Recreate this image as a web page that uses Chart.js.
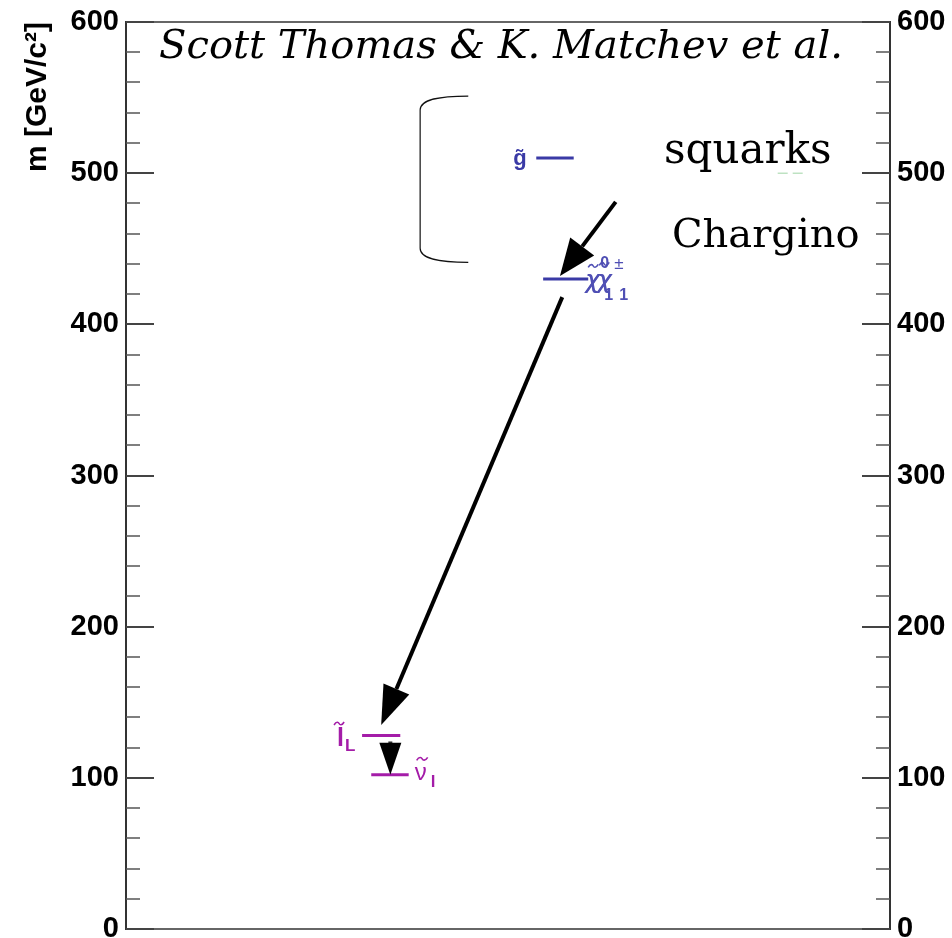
<!DOCTYPE html>
<html>
<head>
<meta charset="utf-8">
<script src="https://cdn.jsdelivr.net/npm/chart.js@4/dist/chart.umd.min.js"></script>
<style>
  html, body { margin: 0; padding: 0; background: #fff; }
  #wrap { width: 952px; height: 938px; }
</style>
</head>
<body>
<div id="wrap"><canvas id="c" width="952" height="938"></canvas></div>
<script>
// Mass axis (GeV/c^2)
const massTicks = [0, 100, 200, 300, 400, 500, 600];
const minorTickStep = 20;

// Sparticle mass levels
const levelNames  = ['gluino', 'squarks', 'chi', 'sleptonL', 'sneutrino'];
const levelMass   = [510, 500, 430, 128, 102];
const levelXStart = [53.7, 85.3, 54.6, 30.9, 32.1];
const levelXEnd   = [58.6, 88.6, 60.5, 35.9, 37.0];

// Decay arrows, tail -> head, in (x, mass)
const arrowFromX = [64.1, 57.1, 34.6];
const arrowFromM = [481, 418, 124];
const arrowToX   = [56.8, 33.4, 34.6];
const arrowToM   = [432, 135, 102];

// Bracket around the heavy states: x extent and mass extent
const bracketX = [38.5, 44.8];
const bracketM = [551, 441];

// Text
const headerText = 'Scott Thomas & K. Matchev et al.';
const noteTexts = ['squarks', 'Chargino'];
const axisTitle = 'm [GeV/c\u00B2]';

const BLUE = '#3a3aa6';
const BLUE_LIGHT = '#4f4fb4';
const MAGENTA = '#a41ca8';
const levelStyle = {
  gluino:    { color: BLUE, width: 3 },
  squarks:   { color: 'rgba(110,190,120,0.45)', width: 1.5, dash: [10, 5] },
  chi:       { color: BLUE, width: 3 },
  sleptonL:  { color: MAGENTA, width: 3 },
  sneutrino: { color: MAGENTA, width: 3 }
};
const arrowHead = [
  { len: 37, half: 15 },
  { len: 39, half: 14 },
  { len: 32, half: 11 }
];

const datasets = levelNames.map((name, i) => ({
  label: name,
  data: [{ x: levelXStart[i], y: levelMass[i] }, { x: levelXEnd[i], y: levelMass[i] }],
  borderColor: levelStyle[name].color,
  borderWidth: levelStyle[name].width,
  borderDash: levelStyle[name].dash || [],
  pointRadius: 0,
  fill: false,
  tension: 0
}));

function massAxis(position, width, padding) {
  return {
    type: 'linear',
    position: position,
    min: massTicks[0],
    max: massTicks[massTicks.length - 1],
    afterBuildTicks: (s) => { s.ticks = massTicks.map(v => ({ value: v })); },
    ticks: {
      font: { family: 'Liberation Sans', weight: 'bold', size: 29 },
      color: '#000',
      padding: padding
    },
    grid: { display: false, drawTicks: false },
    border: { display: true, color: '#333', width: 2 },
    afterFit: (s) => { s.width = width; s.paddingTop = 0; s.paddingBottom = 0; }
  };
}

const yLeft = massAxis('left', 126, 7);
yLeft.title = {
  display: true,
  text: axisTitle,
  align: 'end',
  color: '#000',
  font: { family: 'Liberation Sans', weight: 'bold', size: 30 },
  padding: { top: 20, bottom: 0 }
};
const yRight = massAxis('right', 62, 7);

// small tilde drawn over a glyph
function tilde(ctx, x, y, w, color) {
  ctx.save();
  ctx.strokeStyle = color;
  ctx.lineWidth = 1.6;
  ctx.beginPath();
  ctx.moveTo(x, y + 1.5);
  ctx.bezierCurveTo(x + w * 0.25, y - 3, x + w * 0.45, y - 1, x + w * 0.5, y);
  ctx.bezierCurveTo(x + w * 0.55, y + 1, x + w * 0.75, y + 3, x + w, y - 1.5);
  ctx.stroke();
  ctx.restore();
}

// Frame, inward ticks, arrows, bracket and particle labels
const spectrumDecor = {
  id: 'spectrumDecor',
  afterDatasetsDraw(chart) {
    const ctx = chart.ctx;
    const xs = chart.scales.x, ys = chart.scales.y;
    const a = chart.chartArea;
    const px = v => xs.getPixelForValue(v);
    const py = v => ys.getPixelForValue(v);
    ctx.save();

    // top and bottom frame lines
    ctx.lineWidth = 2;
    ctx.strokeStyle = '#666';
    ctx.beginPath();
    ctx.moveTo(a.left, a.top); ctx.lineTo(a.right, a.top);
    ctx.moveTo(a.left, a.bottom); ctx.lineTo(a.right, a.bottom);
    ctx.stroke();
    ctx.strokeStyle = '#222';
    ctx.beginPath();
    ctx.moveTo(a.left, a.top); ctx.lineTo(a.left + 26, a.top);
    ctx.moveTo(a.left, a.bottom); ctx.lineTo(a.left + 28, a.bottom);
    ctx.moveTo(a.right - 26, a.bottom); ctx.lineTo(a.right, a.bottom);
    ctx.moveTo(a.right - 26, a.top); ctx.lineTo(a.right, a.top);
    ctx.stroke();

    // inward ticks on both mass axes
    const lo = massTicks[0], hi = massTicks[massTicks.length - 1];
    for (let v = lo; v <= hi; v += minorTickStep) {
      const major = massTicks.includes(v);
      const y = Math.round(py(v));
      const len = major ? 28 : 14;
      ctx.strokeStyle = major ? '#444' : '#555';
      ctx.lineWidth = major ? 2 : 1.6;
      ctx.beginPath();
      ctx.moveTo(a.left, y); ctx.lineTo(a.left + len, y);
      ctx.moveTo(a.right, y); ctx.lineTo(a.right - len, y);
      ctx.stroke();
    }

    // decay arrows
    ctx.fillStyle = '#000';
    ctx.strokeStyle = '#000';
    arrowFromX.forEach((_, i) => {
      const x0 = px(arrowFromX[i]), y0 = py(arrowFromM[i]);
      const x1 = px(arrowToX[i]), y1 = py(arrowToM[i]);
      const ang = Math.atan2(y1 - y0, x1 - x0);
      const h = arrowHead[i];
      const bx = x1 - h.len * Math.cos(ang), by = y1 - h.len * Math.sin(ang);
      ctx.lineWidth = 4;
      ctx.beginPath();
      ctx.moveTo(x0, y0); ctx.lineTo(bx, by);
      ctx.stroke();
      ctx.beginPath();
      ctx.moveTo(x1, y1);
      ctx.lineTo(bx + h.half * Math.sin(ang), by - h.half * Math.cos(ang));
      ctx.lineTo(bx - h.half * Math.sin(ang), by + h.half * Math.cos(ang));
      ctx.closePath();
      ctx.fill();
    });

    // bracket
    const bl = px(bracketX[0]), br = px(bracketX[1]);
    const bt = py(bracketM[0]), bb = py(bracketM[1]);
    ctx.lineWidth = 1.2;
    ctx.strokeStyle = '#111';
    ctx.beginPath();
    ctx.moveTo(br, bt);
    ctx.bezierCurveTo(bl + 20, bt, bl, bt + 3, bl, bt + 14);
    ctx.lineTo(bl, bb - 14);
    ctx.bezierCurveTo(bl, bb - 3, bl + 20, bb, br, bb);
    ctx.stroke();

    // particle labels
    ctx.textBaseline = 'alphabetic';
    ctx.textAlign = 'left';
    // gluino
    ctx.fillStyle = BLUE;
    ctx.font = 'bold 22px "Liberation Sans"';
    ctx.fillText('g\u0303', px(levelXStart[0]) - 23, py(levelMass[0]) + 7);
    // neutralino / chargino, overlapping
    const cx = px(levelXEnd[2]), cy = py(levelMass[2]);
    ctx.fillStyle = BLUE_LIGHT;
    ctx.font = 'italic 24px "DejaVu Sans"';
    ctx.fillText('\u03C7', cx - 3, cy + 9);
    ctx.fillText('\u03C7', cx + 9, cy + 9);
    ctx.fillText('\u03C7', cx - 2.5, cy + 9);
    ctx.fillText('\u03C7', cx + 9.5, cy + 9);
    tilde(ctx, cx + 0, cy - 13, 10, BLUE_LIGHT);
    tilde(ctx, cx + 11, cy - 15, 10, BLUE_LIGHT);
    ctx.font = 'bold 16px "Liberation Sans"';
    ctx.fillText('0', cx + 12, cy - 11);
    ctx.fillText('1', cx + 16, cy + 21);
    ctx.fillText('1', cx + 31, cy + 21);
    ctx.font = '17px "Liberation Sans"';
    ctx.fillText('\u00B1', cx + 26, cy - 10);
    // left-handed slepton
    const lx = px(levelXStart[3]), ly = py(levelMass[3]);
    ctx.fillStyle = MAGENTA;
    ctx.font = 'bold 25px "Liberation Sans"';
    ctx.fillText('l', lx - 25, ly + 10);
    tilde(ctx, lx - 28, ly - 12, 10, MAGENTA);
    ctx.font = 'bold 17px "Liberation Sans"';
    ctx.fillText('L', lx - 17, ly + 15);
    // sneutrino
    const nx = px(levelXEnd[4]), ny = py(levelMass[4]);
    ctx.font = '24px "Liberation Sans"';
    ctx.fillText('\u03BD', nx + 6, ny + 5);
    tilde(ctx, nx + 8, ny - 16, 11, MAGENTA);
    ctx.font = 'bold 17px "Liberation Sans"';
    ctx.fillText('l', nx + 22, ny + 12);

    // header and annotations
    ctx.fillStyle = '#000';
    ctx.textAlign = 'center';
    ctx.font = 'italic 40px "DejaVu Serif"';
    ctx.fillText(headerText, 501, 58);
    ctx.textAlign = 'left';
    ctx.font = '42px "DejaVu Serif"';
    ctx.fillText(noteTexts[0], 664, 163);
    ctx.font = '40px "DejaVu Serif"';
    ctx.fillText(noteTexts[1], 672, 247);

    ctx.restore();
  }
};

new Chart(document.getElementById('c'), {
  type: 'line',
  data: { datasets: datasets },
  options: {
    responsive: false,
    animation: false,
    layout: { padding: { top: 22, bottom: 9, left: 0, right: 0 } },
    plugins: { legend: { display: false }, tooltip: { enabled: false } },
    scales: {
      x: { type: 'linear', min: 0, max: 100, display: false },
      y: yLeft,
      y2: yRight
    }
  },
  plugins: [spectrumDecor]
});
</script>
</body>
</html>
